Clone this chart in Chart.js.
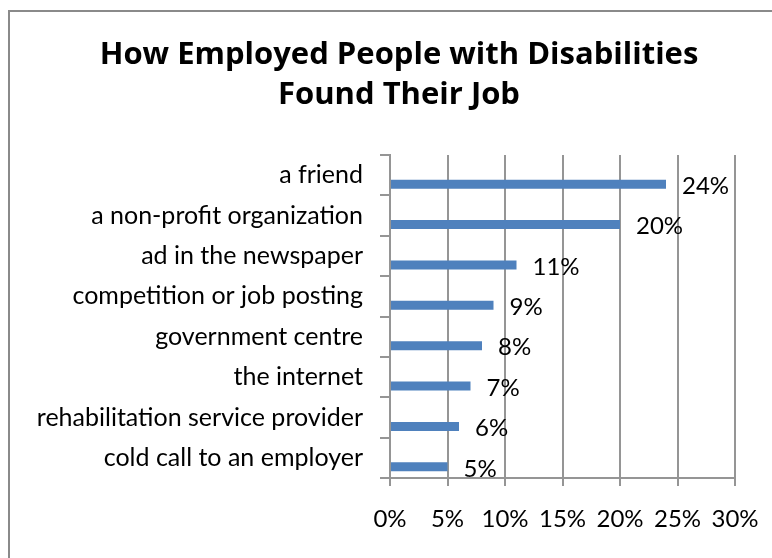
<!DOCTYPE html>
<html>
<head>
<meta charset="utf-8">
<title>How Employed People with Disabilities Found Their Job</title>
<script src="https://cdn.jsdelivr.net/npm/chart.js@4/dist/chart.umd.min.js"></script>
<style>
  html, body { margin: 0; padding: 0; background: #fff; overflow: hidden; }
  #frame {
    position: absolute;
    left: 8px;
    top: 10px;
    width: 778px;
    height: 560px;
    border: 2px solid #8a8a8a;
  }
  canvas { display: block; }
</style>
</head>
<body>
<div id="frame">
  <canvas id="jobChart" width="778" height="546"></canvas>
</div>
<script>
// Como as pessoas empregadas com deficiência encontraram o emprego
const titleLines = ['How Employed People with Disabilities', 'Found Their Job'];
const sources = [
    'a friend',
    'a non-profit organization',
    'ad in the newspaper',
    'competition or job posting',
    'government centre',
    'the internet',
    'rehabilitation service provider',
    'cold call to an employer'
];
const shares = [24, 20, 11, 9, 8, 7, 6, 5];
const axisTicks = [0, 5, 10, 15, 20, 25, 30];

const FONT = 'Lato, Calibri, Carlito, sans-serif';
const TITLE_FONT = '"Open Sans", Calibri, sans-serif';
const GRID = '#959595';

// Escreve o valor ao lado de cada barra
const valueLabels = {
    id: 'valueLabels',
    afterDatasetsDraw(chart) {
        const ctx = chart.ctx;
        const meta = chart.getDatasetMeta(1);
        ctx.save();
        ctx.font = '24px ' + FONT;
        ctx.fillStyle = '#000';
        ctx.textAlign = 'left';
        ctx.textBaseline = 'middle';
        meta.data.forEach((bar, i) => {
            ctx.fillText(shares[i] + '%', bar.x + 16, bar.y + 2);
        });
        ctx.restore();
    }
};

const ctx = document.getElementById('jobChart').getContext('2d');
new Chart(ctx, {
    type: 'bar',
    data: {
        labels: sources,
        datasets: [
            {
                // série vazia: empurra as barras para a metade de baixo de cada linha
                label: '',
                data: sources.map(() => null)
            },
            {
                label: 'Share',
                data: shares,
                backgroundColor: '#4f81bd',
                borderWidth: 0
            }
        ]
    },
    options: {
        indexAxis: 'y',
        responsive: false,
        animation: false,
        categoryPercentage: 0.89,
        barPercentage: 0.5,
        layout: { padding: 0 },
        plugins: {
            legend: { display: false },
            tooltip: { enabled: false },
            title: {
                display: true,
                text: titleLines,
                color: '#000',
                font: { family: TITLE_FONT, size: 31, weight: 'bold', lineHeight: '40px' },
                padding: { top: 23, bottom: 40 }
            }
        },
        scales: {
            x: {
                min: axisTicks[0],
                max: axisTicks[axisTicks.length - 1],
                afterBuildTicks(scale) {
                    scale.ticks = axisTicks.map(v => ({ value: v }));
                },
                afterFit(scale) { scale.height = 80; },
                grid: { color: GRID, lineWidth: 2, tickLength: 8 },
                border: { color: GRID, width: 2 },
                ticks: {
                    color: '#000',
                    padding: 19,
                    font: { family: FONT, size: 24 },
                    callback: v => v + '%'
                }
            },
            y: {
                afterFit(scale) { scale.width = 380; },
                grid: { color: GRID, lineWidth: 2, tickLength: 10, drawOnChartArea: false },
                border: { color: GRID, width: 2 },
                ticks: {
                    color: '#000',
                    padding: 17,
                    font: { family: FONT, size: 25 }
                }
            },
            // margem à direita do gráfico, sem desenho; o título continua centrado na largura toda
            rightGap: {
                position: 'right',
                type: 'linear',
                afterFit(scale) { scale.width = 53; },
                grid: { display: false },
                border: { display: false },
                ticks: { display: false }
            }
        }
    },
    plugins: [valueLabels]
});
</script>
</body>
</html>
